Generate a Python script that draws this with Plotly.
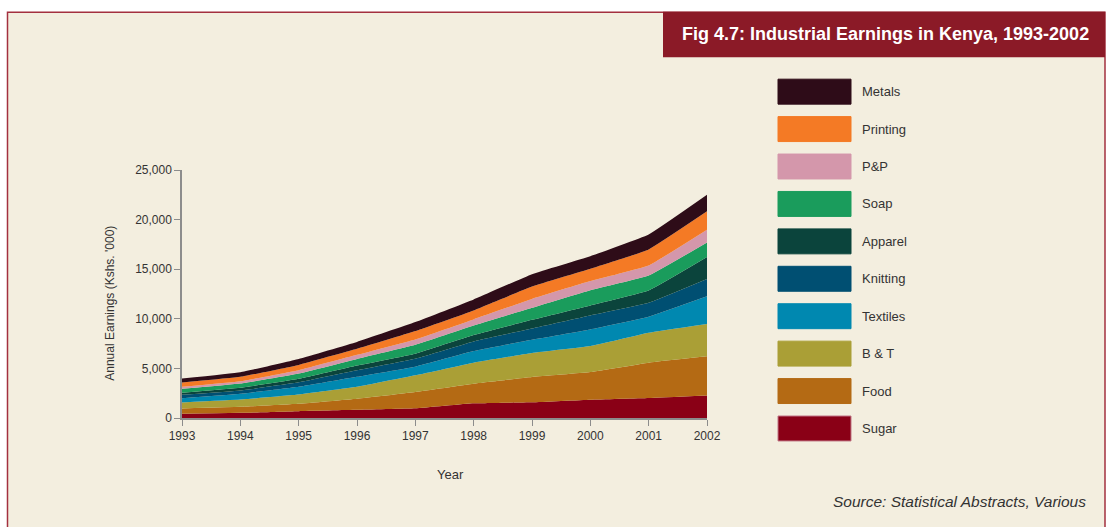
import plotly.graph_objects as go

# Years on the horizontal axis
years = [1993, 1994, 1995, 1996, 1997, 1998, 1999, 2000, 2001, 2002]

# Annual earnings by industry (Kshs. '000), stacked bottom to top
sugar    = [420, 520, 685, 825, 975, 1480, 1580, 1840, 2015, 2265]
food     = [535, 605, 745, 1110, 1645, 1980, 2550, 2790, 3565, 3955]
b_and_t  = [605, 735, 935, 1205, 1680, 2120, 2420, 2620, 3020, 3265]
textiles = [435, 575, 775, 1010, 875, 1165, 1340, 1680, 1610, 2780]
knitting = [340, 335, 460, 665, 805, 975, 1140, 1410, 1410, 1755]
apparel  = [200, 270, 345, 470, 505, 640, 870, 1010, 1240, 2210]
soap     = [405, 430, 535, 675, 905, 975, 1215, 1540, 1510, 1470]
p_and_p  = [200, 230, 335, 405, 535, 605, 885, 910, 1010, 1280]
printing = [435, 450, 540, 605, 835, 905, 1250, 1240, 1610, 1850]
metals   = [400, 460, 605, 700, 905, 1105, 1250, 1270, 1510, 1670]

series_names = ["Sugar", "Food", "B & T", "Textiles", "Knitting",
                "Apparel", "Soap", "P&P", "Printing", "Metals"]
series_values = [sugar, food, b_and_t, textiles, knitting,
                 apparel, soap, p_and_p, printing, metals]
series_colors = ["#8a0016", "#b46a14", "#aa9f36", "#0088b0", "#004f72",
                 "#0b443c", "#1a9c5c", "#d497ab", "#f47a25", "#2e0c18"]

y_ticks = [0, 5000, 10000, 15000, 20000, 25000]
y_tick_labels = ["0", "5,000", "10,000", "15,000", "20,000", "25,000"]

W, H = 1109, 527
PLOT_L, PLOT_R, PLOT_T, PLOT_B = 182, 707, 170, 418.5

FONT = "Liberation Sans, Arial, sans-serif"
TEXT = "#333333"
CREAM = "#f3eedf"
MAROON = "#8b1a27"


def px_x(x):
    return (x - PLOT_L) / (PLOT_R - PLOT_L)


def px_y(y):
    return (PLOT_B - y) / (PLOT_B - PLOT_T)


fig = go.Figure()

for name, vals, col in zip(series_names, series_values, series_colors):
    fig.add_trace(go.Scatter(
        x=years, y=vals, name=name, stackgroup="one",
        mode="lines", line=dict(width=0, color=col, shape="spline", smoothing=0.3),
        fillcolor=col, hoverinfo="x+y+name", showlegend=False,
    ))

shapes = []
annotations = []

# cream panel with a thin maroon frame
shapes.append(dict(type="rect", xref="paper", yref="paper",
                   x0=px_x(7.5), x1=px_x(1105), y0=px_y(540), y1=px_y(12),
                   fillcolor=CREAM, line=dict(color="#a3303f", width=1.5),
                   layer="below"))

# title banner
shapes.append(dict(type="rect", xref="paper", yref="paper",
                   x0=px_x(663), x1=px_x(1105), y0=px_y(57), y1=px_y(11.5),
                   fillcolor=MAROON, line=dict(width=0), layer="below"))
annotations.append(dict(xref="paper", yref="paper", x=px_x(885), y=px_y(34),
                        text="<b>Fig 4.7: Industrial Earnings in Kenya, 1993-2002</b>",
                        showarrow=False, xanchor="center", yanchor="middle",
                        font=dict(family=FONT, size=18, color="white")))

# legend: large swatches, Metals at the top down to Sugar
for i, (name, col) in enumerate(zip(series_names[::-1], series_colors[::-1])):
    top = 79 + i * 37.5
    border = "#c07585" if name == "Sugar" else col
    shapes.append(dict(type="rect", xref="paper", yref="paper",
                       x0=px_x(778), x1=px_x(851), y0=px_y(top + 25), y1=px_y(top),
                       fillcolor=col, line=dict(color=border, width=1)))
    annotations.append(dict(xref="paper", yref="paper", x=px_x(860), y=px_y(top + 12.5),
                            text=name, showarrow=False, xanchor="left", yanchor="middle",
                            font=dict(family=FONT, size=13, color=TEXT)))

# axis titles and source note
annotations.append(dict(xref="paper", yref="paper", x=px_x(110), y=px_y(304),
                        text="Annual Earnings (Kshs. '000)", showarrow=False,
                        textangle=-90, xanchor="center", yanchor="middle",
                        font=dict(family=FONT, size=12, color=TEXT)))
annotations.append(dict(xref="paper", yref="paper", x=px_x(450), y=px_y(475),
                        text="Year", showarrow=False, xanchor="center", yanchor="middle",
                        font=dict(family=FONT, size=13, color=TEXT)))
annotations.append(dict(xref="paper", yref="paper", x=px_x(1088), y=px_y(502),
                        text="<i>Source: Statistical Abstracts, Various</i>",
                        showarrow=False, xanchor="right", yanchor="middle",
                        font=dict(family=FONT, size=15.5, color=TEXT)))

axis_common = dict(showgrid=False, zeroline=False, showline=True, linecolor="#8c8c8c",
                   linewidth=1.5, ticks="outside", ticklen=6, tickcolor="#8c8c8c",
                   tickfont=dict(family=FONT, size=12, color=TEXT))

fig.update_layout(
    width=W, height=H,
    margin=dict(l=PLOT_L, r=W - PLOT_R, t=PLOT_T, b=H - PLOT_B, pad=0),
    paper_bgcolor="white", plot_bgcolor="rgba(0,0,0,0)",
    shapes=shapes, annotations=annotations,
    showlegend=False,
    xaxis=dict(range=[1993, 2002], tickvals=years, ticktext=[str(y) for y in years],
               **axis_common),
    yaxis=dict(range=[0, 25000], tickvals=y_ticks, ticktext=y_tick_labels,
               **axis_common),
)

fig.write_html("out.html")
